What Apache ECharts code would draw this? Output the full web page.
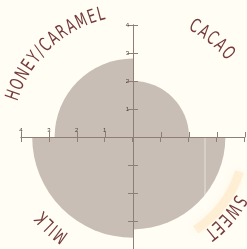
<!DOCTYPE html>
<html>
<head>
<meta charset="utf-8">
<script src="https://cdn.jsdelivr.net/npm/echarts@6/dist/echarts.min.js"></script>
<style>
  html, body { margin: 0; padding: 0; background: #fffdf4; }
  #chart { width: 247px; height: 249px; }
</style>
</head>
<body>
<div id="chart"></div>
<script>
// flavour wheel - one sector per flavour, radius = score
var categories = ['CACAO', 'SWEET', 'MILK', 'HONEY/CARAMEL'];
var values = [2.0, 3.3, 3.6, 2.8];
var tickLabels = ['1', '2', '3', '4'];
var axisMax = 4;

// where the curved labels sit (compass degrees, px from centre)
var labelAngles = [39, 131, 222, 317];
var labelRadii = [126, 123, 121, 126];

var cx = 133, cy = 137, unit = 28;
var span = axisMax * unit;
var fontSize = 19, squeeze = 0.66, spacing = 1.9;
var textFont = fontSize + 'px "DejaVu Sans", sans-serif';
var textColor = '#753b3b';

var ctx = document.createElement('canvas').getContext('2d');
ctx.font = textFont;

function arcText(str, midDeg, r) {
    var widths = str.split('').map(function (ch) { return ctx.measureText(ch).width * squeeze + spacing; });
    var total = widths.reduce(function (a, b) { return a + b; }, 0) - spacing;
    var a = midDeg * Math.PI / 180 - total / 2 / r;
    var els = [];
    for (var i = 0; i < str.length; i++) {
        var w = widths[i] - spacing;
        var th = a + w / 2 / r;
        els.push({
            type: 'text',
            x: cx + r * Math.sin(th),
            y: cy - r * Math.cos(th),
            rotation: -th,
            scaleX: squeeze,
            z: 20,
            style: {
                text: str[i],
                font: textFont,
                fill: textColor,
                align: 'center',
                verticalAlign: 'middle'
            }
        });
        a += widths[i] / r;
    }
    return els;
}

var graphics = [{
    type: 'arc',
    shape: { cx: cx, cy: cy, r: 112, startAngle: 18 * Math.PI / 180, endAngle: 56 * Math.PI / 180 },
    style: { stroke: 'rgba(253,214,160,0.3)', lineWidth: 9, fill: null, shadowBlur: 8, shadowColor: 'rgba(253,205,140,0.45)' },
    z: 1
}, {
    type: 'line',
    shape: { x1: 205, y1: 138, x2: 205, y2: 212 },
    style: { stroke: 'rgba(255,255,255,0.55)', lineWidth: 1 },
    z: 5
}];
categories.forEach(function (c, i) {
    graphics = graphics.concat(arcText(c, labelAngles[i], labelRadii[i]));
});

var lineColor = '#8e7e75';
function labelFmt(dim) {
    return function (v) {
        if (dim === 'x') return v < 0 ? tickLabels[-v - 1] : '';
        return v > 0 ? tickLabels[v - 1] : '';
    };
}
// visible axis: ticks only go one way, so each axis is drawn twice (one grid per side)
function axisShown(dim, grid, pos, showLabel, labelInside) {
    return {
        type: 'value',
        gridIndex: grid,
        position: pos,
        min: -axisMax,
        max: axisMax,
        interval: 1,
        z: 10,
        axisLine: { show: true, onZero: false, lineStyle: { color: lineColor, width: 1 } },
        axisTick: { show: true, length: 5, lineStyle: { color: lineColor, width: 1 } },
        splitLine: { show: false },
        axisLabel: {
            show: showLabel,
            inside: labelInside,
            fontSize: 6,
            color: '#4a3a35',
            margin: 4,
            showMinLabel: true,
            showMaxLabel: true,
            formatter: labelFmt(dim)
        }
    };
}
function axisHidden(grid) {
    return { type: 'value', gridIndex: grid, min: 0, max: 1, show: false, splitLine: { show: false } };
}

var chart = echarts.init(document.getElementById('chart'), null, { renderer: 'canvas' });
chart.setOption({
    backgroundColor: '#fffdf4',
    animation: false,
    grid: [
        { left: cx - span, width: 2 * span, top: cy - 100, height: 100 },   // x axis, ticks down
        { left: cx - span, width: 2 * span, top: cy, height: 100 },         // x axis, ticks up
        { left: cx, width: span, top: cy - span, height: 2 * span },        // y axis, ticks left
        { left: cx - span, width: span, top: cy - span, height: 2 * span }  // y axis, ticks right
    ],
    xAxis: [
        axisShown('x', 0, 'bottom', true, true),
        axisShown('x', 1, 'top', false, false),
        axisHidden(2),
        axisHidden(3)
    ],
    yAxis: [
        axisHidden(0),
        axisHidden(1),
        axisShown('y', 2, 'left', true, false),
        axisShown('y', 3, 'right', false, false)
    ],
    polar: { center: [cx, cy], radius: span },
    angleAxis: { type: 'category', data: categories, startAngle: 90, show: false },
    radiusAxis: { min: 0, max: axisMax, show: false },
    graphic: graphics,
    series: [{
        type: 'bar',
        coordinateSystem: 'polar',
        data: values,
        barCategoryGap: '0%',
        itemStyle: { color: '#c8beb5' },
        z: 2
    }]
});
</script>
</body>
</html>
